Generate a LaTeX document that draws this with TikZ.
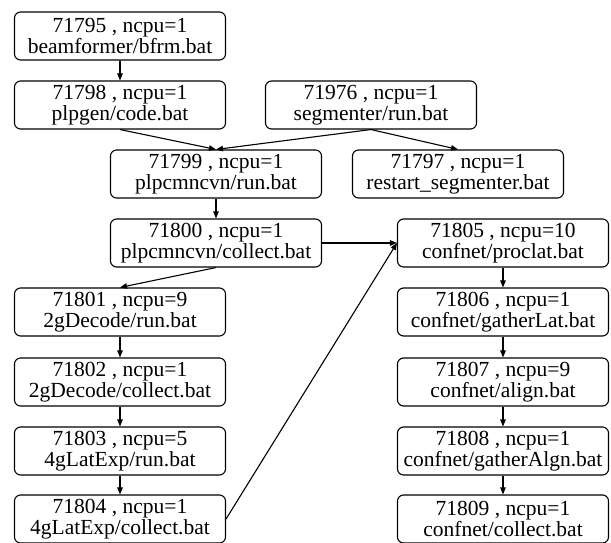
\documentclass[tikz,border=0pt]{standalone}
\usepackage{fontspec}
\newfontfamily\jobfont{LiberationSerif}[Extension=.ttf,UprightFont=*-Regular]
\usetikzlibrary{arrows.meta}
\begin{document}
\begin{tikzpicture}[x=1pt,y=-1pt,
  job/.style={draw, line width=1.1pt, rounded corners=6pt, minimum width=211pt, minimum height=48pt, inner sep=0pt, align=center, font=\jobfont\fontsize{21.5}{20.5}\selectfont},
  link/.style={line width=1.1pt, -{Triangle[length=7pt,width=5.5pt]}}]
\useasboundingbox (0,0) rectangle (611,543);
\node[job] (n95) at (120,36) {71795 , ncpu=1\\beamformer/bfrm.bat};
\node[job] (n98) at (120,105) {71798 , ncpu=1\\plpgen/code.bat};
\node[job] (n76) at (371,105) {71976 , ncpu=1\\segmenter/run.bat};
\node[job] (n99) at (216,174) {71799 , ncpu=1\\plpcmncvn/run.bat};
\node[job] (n97) at (458,174) {71797 , ncpu=1\\restart\_segmenter.bat};
\node[job] (n00) at (216,243) {71800 , ncpu=1\\plpcmncvn/collect.bat};
\node[job] (n05) at (503,243) {71805 , ncpu=10\\confnet/proclat.bat};
\node[job] (n01) at (120,312) {71801 , ncpu=9\\2gDecode/run.bat};
\node[job] (n06) at (503,312) {71806 , ncpu=1\\confnet/gatherLat.bat};
\node[job] (n02) at (120,382) {71802 , ncpu=1\\2gDecode/collect.bat};
\node[job] (n07) at (503,382) {71807 , ncpu=9\\confnet/align.bat};
\node[job] (n03) at (120,451) {71803 , ncpu=5\\4gLatExp/run.bat};
\node[job] (n08) at (503,451) {71808 , ncpu=1\\confnet/gatherAlgn.bat};
\node[job] (n04) at (120,519) {71804 , ncpu=1\\4gLatExp/collect.bat};
\node[job] (n09) at (503,519) {71809 , ncpu=1\\confnet/collect.bat};
\draw[link] (n95) -- (n98);
\draw[link] (n98.south) -- (n99.north);
\draw[link] (n76.south) -- (n99.north);
\draw[link] (n76.south) -- (n97.north);
\draw[link] (n99) -- (n00);
\draw[link] (n00.east) -- (n05.west);
\draw[link] (n00.south) -- (n01.north);
\draw[link] (n01) -- (n02);
\draw[link] (n02) -- (n03);
\draw[link] (n03) -- (n04);
\draw[link] (n04.east) -- (n05.west);
\draw[link] (n05) -- (n06);
\draw[link] (n06) -- (n07);
\draw[link] (n07) -- (n08);
\draw[link] (n08) -- (n09);
\end{tikzpicture}
\end{document}
